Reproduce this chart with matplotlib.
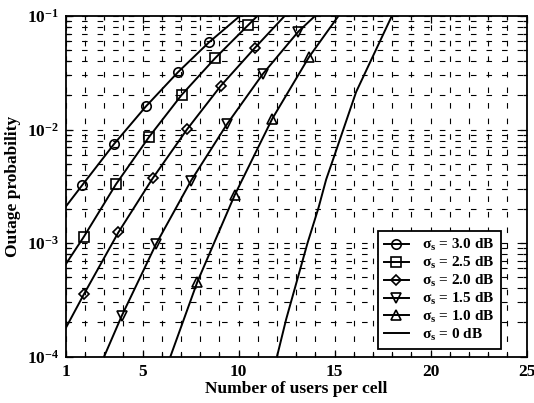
import matplotlib
matplotlib.use("Agg")
import matplotlib.pyplot as plt
from matplotlib.ticker import FixedLocator, NullFormatter
import numpy as np

plt.rcParams['font.family'] = ['Liberation Serif', 'DejaVu Serif']
plt.rcParams['font.weight'] = 'bold'
plt.rcParams['mathtext.fontset'] = 'custom'
plt.rcParams['mathtext.rm'] = 'Liberation Serif:bold'
plt.rcParams['mathtext.it'] = 'Liberation Serif:bold'
plt.rcParams['mathtext.bf'] = 'Liberation Serif:bold'
plt.rcParams['mathtext.default'] = 'rm'

# ---- data ----
labels = [r'$\sigma_s$ = 3.0 dB', r'$\sigma_s$ = 2.5 dB', r'$\sigma_s$ = 2.0 dB',
          r'$\sigma_s$ = 1.5 dB', r'$\sigma_s$ = 1.0 dB', r'$\sigma_s$ = 0 dB']
markers = ['o', 's', 'D', 'v', '^', None]

x_30 = [1.0, 1.87, 3.52, 5.18, 6.84, 8.46, 10.07]
y_30 = [2.09e-3, 3.25e-3, 7.46e-3, 1.60e-2, 3.19e-2, 5.86e-2, 1.0e-1]

x_25 = [1.0, 1.95, 3.62, 5.34, 7.04, 8.78, 10.51, 10.98]
y_25 = [6.5e-4, 1.14e-3, 3.30e-3, 8.6e-3, 2.02e-2, 4.25e-2, 8.34e-2, 1.0e-1]

x_20 = [1.0, 1.95, 3.74, 5.53, 7.33, 9.07, 10.86, 12.4]
y_20 = [1.78e-4, 3.55e-4, 1.24e-3, 3.72e-3, 1.01e-2, 2.42e-2, 5.26e-2, 1.0e-1]

x_15 = [3.0, 3.92, 5.70, 7.53, 9.39, 11.26, 13.11, 13.98]
y_15 = [1.0e-4, 2.29e-4, 9.77e-4, 3.55e-3, 1.11e-2, 3.08e-2, 7.28e-2, 1.0e-1]

x_10 = [6.45, 7.86, 9.80, 11.75, 13.66, 15.2]
y_10 = [1.0e-4, 4.58e-4, 2.65e-3, 1.24e-2, 4.33e-2, 1.0e-1]

x_00 = [12.0, 12.48, 13.59, 14.16, 14.56, 15.03, 16.12, 17.98]
y_00 = [1.0e-4, 2.14e-4, 1.0e-3, 2.04e-3, 3.63e-3, 6.17e-3, 2.14e-2, 1.0e-1]

xs = [x_30, x_25, x_20, x_15, x_10, x_00]
ys = [y_30, y_25, y_20, y_15, y_10, y_00]

x_ticks = [1, 5, 10, 15, 20, 25]
x_tick_labels = ['1', '5', '10', '15', '20', '25']
y_ticks = [1e-4, 1e-3, 1e-2, 1e-1]
y_tick_labels = [r'$10^{-4}$', r'$10^{-3}$', r'$10^{-2}$', r'$10^{-1}$']

# ---- figure ----
fig = plt.figure(figsize=(5.34, 4.03), dpi=100)
ax = fig.add_axes([0.123, 0.115, 0.8633, 0.8454])

for x, y, m, lab in zip(xs, ys, markers, labels):
    if m is None:
        ax.semilogy(x, y, color='black', lw=1.4, label=lab)
    else:
        ax.semilogy(x, y, color='black', lw=1.4, marker=m,
                    markevery=slice(1, -1), markersize=6.8 if m != 'D' else 5.2,
                    markerfacecolor='none', markeredgecolor='black',
                    markeredgewidth=1.2, label=lab)

ax.set_xlim(1, 25)
ax.set_ylim(1e-4, 1e-1)
ax.set_xticks(x_ticks)
ax.set_xticklabels(x_tick_labels)
ax.xaxis.set_minor_locator(FixedLocator(np.arange(1, 26)))
ax.set_yticks(y_ticks)
ax.set_yticklabels(y_tick_labels)
minor_y = [k * 10.0**e for e in range(-4, -1) for k in range(2, 10)]
ax.yaxis.set_minor_locator(FixedLocator(minor_y))
ax.yaxis.set_minor_formatter(NullFormatter())

ax.tick_params(which='both', direction='in', top=True, right=True,
               labelsize=12.5, width=0.9, color='black')
ax.tick_params(which='major', length=5, pad=5)
ax.tick_params(which='minor', length=3)

ax.grid(True, which='both', color='black', lw=0.8, linestyle=(0, (5, 9)))
for s in ax.spines.values():
    s.set_linewidth(1.3)

ax.set_xlabel('Number of users per cell', fontsize=12.5, fontweight='bold', labelpad=1)
ax.set_ylabel('Outage probability', fontsize=12.5, fontweight='bold', labelpad=4)

leg = ax.legend(loc='lower right', bbox_to_anchor=(0.944, 0.0226), borderaxespad=0,
                fontsize=11, frameon=True, fancybox=False, edgecolor='black',
                framealpha=1, handlelength=1.6, labelspacing=0.12, numpoints=1,
                handletextpad=0.9, borderpad=0.4)
leg.get_frame().set_linewidth(1.3)

fig.savefig('out.png', dpi=100)
